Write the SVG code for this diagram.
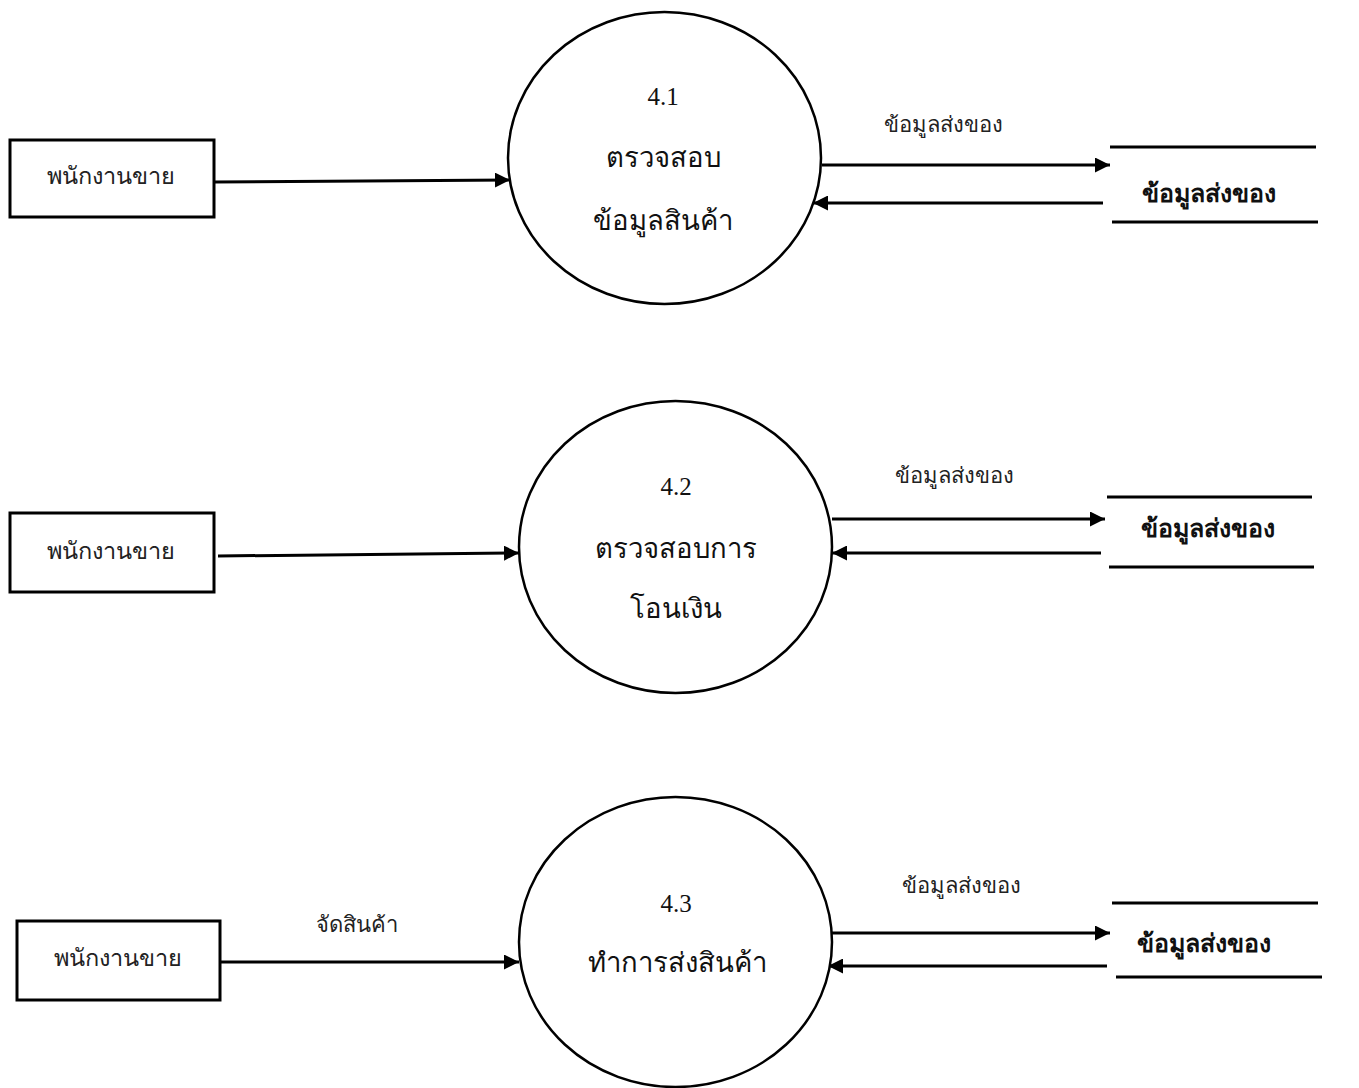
<svg xmlns="http://www.w3.org/2000/svg" width="1359" height="1088" viewBox="0 0 1359 1088">
<style>
.box{fill:#fff;stroke:#000;stroke-width:3}
.proc{fill:#fff;stroke:#000;stroke-width:2.5}
.st{stroke:#000;stroke-width:3;fill:none}
.flow{stroke:#000;stroke-width:3;fill:none;marker-end:url(#ah)}
.sans{font-family:"Noto Sans","DejaVu Sans","Liberation Sans",sans-serif;fill:#222;text-anchor:middle}
.serif{font-family:"Liberation Serif","DejaVu Serif",serif;fill:#111;text-anchor:middle}
.ent{font-size:23.5px}
.lbl{font-size:22px}
.num{font-size:25px}
.ptxt{font-size:27.5px}
.stxt{font-size:25px;font-weight:bold}
</style>
<defs>
<marker id="ah" viewBox="0 0 15 15" refX="15" refY="7.5" markerWidth="15" markerHeight="15" markerUnits="userSpaceOnUse" orient="auto">
<path d="M0,0 L15,7.5 L0,15 Z" fill="#000"/>
</marker>
</defs>
<rect width="1359" height="1088" fill="#fff"/>

<g id="connectors">
<line class="flow" x1="214" y1="182" x2="510" y2="180"/>
<line class="flow" x1="822" y1="165" x2="1110" y2="165"/>
<line class="flow" x1="1103" y1="203" x2="813" y2="203"/>
<line class="flow" x1="218" y1="556" x2="519" y2="553"/>
<line class="flow" x1="832" y1="519" x2="1105" y2="519"/>
<line class="flow" x1="1101" y1="553" x2="832" y2="553"/>
<line class="flow" x1="220" y1="962" x2="519" y2="962"/>
<line class="flow" x1="832" y1="933" x2="1110" y2="933"/>
<line class="flow" x1="1107" y1="966" x2="828" y2="966"/>
<text class="sans lbl" x="943" y="132">ข้อมูลส่งของ</text>
<text class="sans lbl" x="954" y="483">ข้อมูลส่งของ</text>
<text class="sans lbl" x="357" y="932">จัดสินค้า</text>
<text class="sans lbl" x="961" y="893">ข้อมูลส่งของ</text>
</g>

<g id="entity1">
<rect class="box" x="10" y="140" width="204" height="77"/>
<text class="sans ent" x="111" y="184">พนักงานขาย</text>
</g>
<g id="process1">
<ellipse class="proc" cx="664.5" cy="158" rx="156.5" ry="146"/>
<text class="serif num" x="663" y="105">4.1</text>
<text class="serif ptxt" x="663" y="167">ตรวจสอบ</text>
<text class="serif ptxt" x="663" y="230">ข้อมูลสินค้า</text>
</g>
<g id="store1">
<line class="st" x1="1110" y1="147" x2="1316" y2="147"/>
<line class="st" x1="1112" y1="222" x2="1318" y2="222"/>
<text class="serif stxt" x="1209" y="202">ข้อมูลส่งของ</text>
</g>

<g id="entity2">
<rect class="box" x="10" y="513" width="204" height="79"/>
<text class="sans ent" x="111" y="559">พนักงานขาย</text>
</g>
<g id="process2">
<ellipse class="proc" cx="675.5" cy="547" rx="156.5" ry="146"/>
<text class="serif num" x="676" y="495">4.2</text>
<text class="serif ptxt" x="676" y="558">ตรวจสอบการ</text>
<text class="serif ptxt" x="676" y="618">โอนเงิน</text>
</g>
<g id="store2">
<line class="st" x1="1107" y1="497" x2="1312" y2="497"/>
<line class="st" x1="1109" y1="567" x2="1314" y2="567"/>
<text class="serif stxt" x="1207.5" y="537">ข้อมูลส่งของ</text>
</g>

<g id="entity3">
<rect class="box" x="17" y="921" width="203" height="79"/>
<text class="sans ent" x="118" y="966">พนักงานขาย</text>
</g>
<g id="process3">
<ellipse class="proc" cx="675.5" cy="942" rx="156.5" ry="145"/>
<text class="serif num" x="676" y="912">4.3</text>
<text class="serif ptxt" x="677" y="972">ทำการส่งสินค้า</text>
</g>
<g id="store3">
<line class="st" x1="1112" y1="903" x2="1318" y2="903"/>
<line class="st" x1="1116" y1="977" x2="1322" y2="977"/>
<text class="serif stxt" x="1203.5" y="952">ข้อมูลส่งของ</text>
</g>
</svg>
